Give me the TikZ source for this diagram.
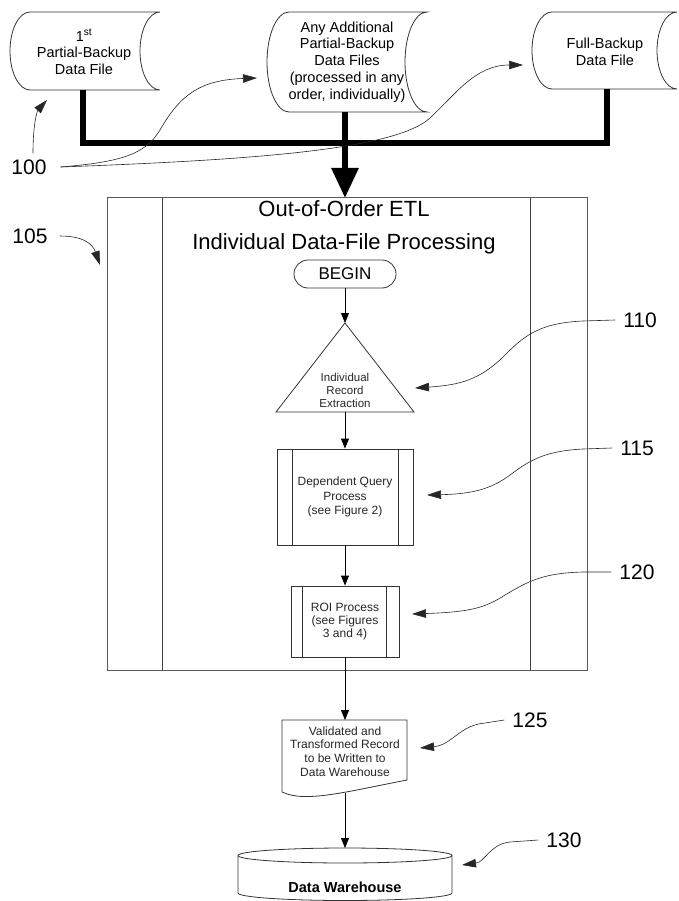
\documentclass[tikz,border=0pt]{standalone}
\usepackage{fontspec}
\setmainfont{Liberation Sans}
\usetikzlibrary{arrows.meta}

\begin{document}
\begin{tikzpicture}[x=1pt,y=-1pt,
  outline/.style={draw=black!80, line width=0.8pt},
  frame/.style={draw=black!65, line width=1pt},
  flow/.style={draw=black, line width=0.8pt, -{Triangle[length=10pt,width=8pt]}},
  callout/.style={draw=black!85, line width=0.6pt, -{Triangle[length=14pt,width=8.5pt]}},
  trunk/.style={draw=black, line width=6pt, line join=miter},
  reflabel/.style={font=\fontsize{21}{24}\selectfont, inner xsep=8pt, inner ysep=0pt},
  filetext/.style={font=\fontsize{14.5}{16.75}\selectfont, align=center, inner sep=0pt},
  smalltext/.style={font=\fontsize{12}{14.5}\selectfont, align=center, inner sep=0pt, text=black!85},
]
\useasboundingbox (0,0) rectangle (678,901);

% ---------- input data files (stored-data symbols) ----------
\draw[outline] (160,12) -- (30,12)
  arc[start angle=90,end angle=270,x radius=20pt,y radius=39pt] -- (160,90)
  arc[start angle=270,end angle=90,x radius=20pt,y radius=39pt] -- cycle;
\node[filetext] (f1) at (84,52) {1\textsuperscript{st}\\Partial-Backup\\Data File};

\draw[outline] (427,12) -- (289,12)
  arc[start angle=90,end angle=270,x radius=22pt,y radius=50pt] -- (427,112)
  arc[start angle=270,end angle=90,x radius=22pt,y radius=50pt] -- cycle;
\node[filetext] (f2) at (347,62) {Any Additional\\Partial-Backup\\Data Files\\(processed in any\\order, individually)};

\draw[outline] (677,12) -- (552,12)
  arc[start angle=90,end angle=270,x radius=20pt,y radius=38.5pt] -- (677,89)
  arc[start angle=270,end angle=90,x radius=20pt,y radius=38.5pt] -- cycle;
\node[filetext] (f3) at (605,52) {Full-Backup\\Data File};

\coordinate (f1b) at (83,90);
\coordinate (f2b) at (345,112);
\coordinate (f3b) at (607,89);

% ---------- ETL process frame ----------
\draw[frame] (107,198) rectangle (587,670);
\draw[frame, draw=black!75] (162,198) -- (162,670);
\draw[frame, draw=black!75] (530,198) -- (530,670);
\coordinate (etltop) at (345,198);

% thick merge lines into the process
\draw[trunk] (f1b) -- (83,143) -- (607,143) -- (f3b);
\draw[trunk, -{Triangle[length=30pt,width=26pt]}] (f2b) -- (etltop);

\node[font=\fontsize{22}{33}\selectfont, align=center] (title) at (344,227)
  {Out-of-Order ETL\\Individual Data-File Processing};

% BEGIN terminator
\node[outline, rounded corners=14pt, minimum width=102pt, minimum height=28pt,
      inner sep=0pt, font=\fontsize{17}{20}\selectfont] (begin) at (345,274) {BEGIN};

% extraction triangle
\coordinate (tritop) at (345,323);
\coordinate (tribase) at (345,412);
\draw[outline] (tritop) -- (414,412) -- (276,412) -- cycle;
\node[smalltext, font=\fontsize{11.5}{13}\selectfont] (tritext) at (345,390)
  {Individual\\Record\\Extraction};

% dependent query process
\node[outline, smalltext, minimum width=136pt, minimum height=96pt] (dq) at (345,497)
  {Dependent Query\\Process\\(see Figure 2)};
\draw[outline] ([xshift=16pt]dq.north west) -- ([xshift=16pt]dq.south west);
\draw[outline] ([xshift=-15pt]dq.north east) -- ([xshift=-15pt]dq.south east);

% ROI process
\node[outline, smalltext, font=\fontsize{12}{13}\selectfont, minimum width=108pt, minimum height=71pt] (roi) at (345,621.5)
  {ROI Process\\(see Figures\\3 and 4)};
\draw[outline] ([xshift=12pt]roi.north west) -- ([xshift=12pt]roi.south west);
\draw[outline] ([xshift=-13pt]roi.north east) -- ([xshift=-13pt]roi.south east);

% output record (document symbol)
\draw[outline] (282,792) -- (282,720) -- (407,720) -- (407,780)
  .. controls (345,792) and (305,803) .. (282,792) -- cycle;
\coordinate (doctop) at (345,720);
\coordinate (docb) at (345,793);
\node[smalltext, font=\fontsize{12}{13.7}\selectfont] (doctext) at (345,751.5)
  {Validated and\\Transformed Record\\to be Written to\\Data Warehouse};

% data warehouse cylinder
\draw[outline] (345,855.5) ellipse [x radius=107pt, y radius=7.5pt];
\draw[outline] (238,855.5) -- (238,893)
  arc[start angle=180,end angle=360,x radius=107pt,y radius=7.5pt] -- (452,855.5);
\coordinate (dwtop) at (345,848);
\node[font=\bfseries\fontsize{14.5}{17}\selectfont, inner sep=0pt] (dw) at (345,887) {Data Warehouse};

% flow connectors
\draw[flow] (begin.south) -- (tritop);
\draw[flow] (tribase) -- (dq.north);
\draw[flow] (dq.south) -- (roi.north);
\draw[flow] (roi.south) -- (doctop);
\draw[flow] (docb) -- (dwtop);

% ---------- reference numerals ----------
\node[reflabel] (n100) at (29,167) {100};
\node[reflabel] (n105) at (30,236) {105};
\node[reflabel] (n110) at (640,320) {110};
\node[reflabel] (n115) at (637,448) {115};
\node[reflabel] (n120) at (637,572) {120};
\node[reflabel] (n125) at (530,720) {125};
\node[reflabel] (n130) at (564,840) {130};

\coordinate (p100a) at (47,100);
\coordinate (p100b) at (257,78);
\coordinate (p100c) at (523,65);
\coordinate (p105) at (100,265);
\coordinate (p110) at (415,388);
\coordinate (p115) at (427,495);
\coordinate (p120) at (412,614);
\coordinate (p125) at (420,748);
\coordinate (p130) at (462,865);

\draw[callout] ([xshift=4pt,yshift=6pt]n100.north) .. controls (33,120) and (38,110) .. (p100a);
\draw[callout] ([xshift=6pt]n100.east) .. controls (120,162) and (145,155) .. (160,130)
  .. controls (180,95) and (200,80) .. (p100b);
\draw[callout] ([xshift=6pt]n100.east) .. controls (250,160) and (395,150) .. (430,118)
  .. controls (455,95) and (475,65) .. (p100c);
\draw[callout] ([xshift=4pt]n105.east) .. controls (85,236) and (93,245) .. (p105);
\draw[callout] (n110.west) -- (583,321) .. controls (540,323) and (525,335) .. (505,355)
  .. controls (480,380) and (460,385) .. (p110);
\draw[callout] (n115.west) -- (583,449) .. controls (545,451) and (530,460) .. (510,475)
  .. controls (490,490) and (470,494) .. (p115);
\draw[callout] (n120.west) -- (583,572) .. controls (545,573) and (530,580) .. (505,595)
  .. controls (485,608) and (470,612) .. (p120);
\draw[callout] (n125.west) -- (485,723) .. controls (460,725) and (452,745) .. (p125);
\draw[callout] (n130.west) -- (510,842) .. controls (490,844) and (485,862) .. (p130);
\end{tikzpicture}
\end{document}
